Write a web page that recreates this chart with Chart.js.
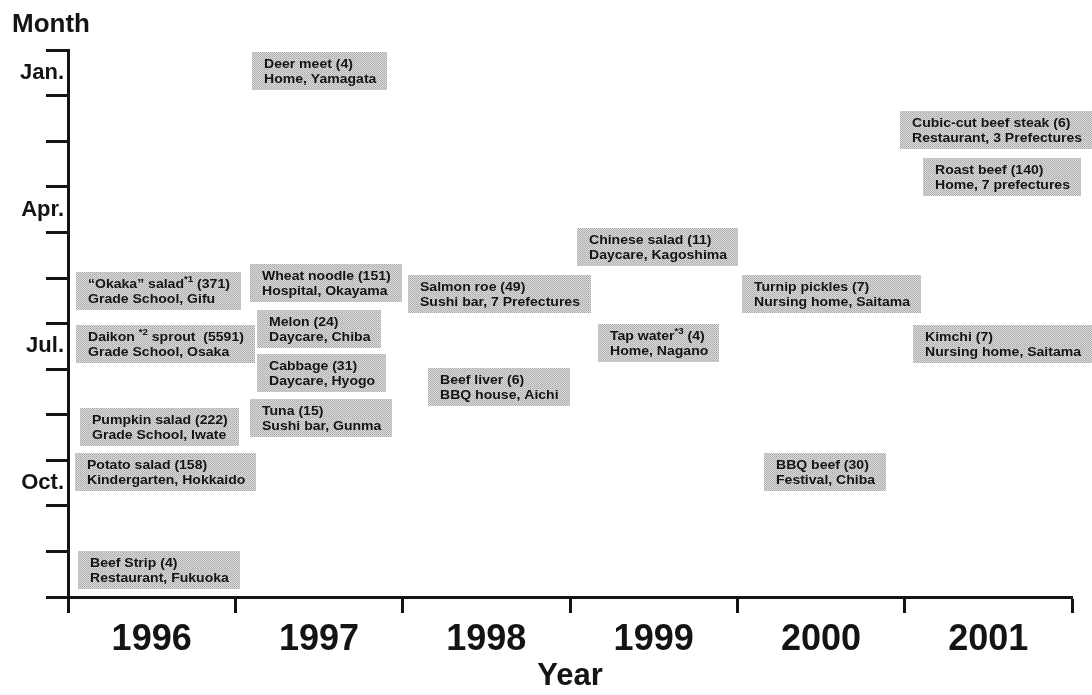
<!DOCTYPE html>
<html><head><meta charset="utf-8">
<script src="https://cdn.jsdelivr.net/npm/chart.js@4/dist/chart.umd.min.js"></script>
<style>html,body{margin:0;padding:0;background:#fff}#wrap{width:1092px;height:695px}</style>
</head><body><div id="wrap"><canvas id="c" width="1092" height="695"></canvas></div>
<script>
// ---- data ----
const yearStart = 1996;
const yearEnd = 2002;
const yearLabels = ['1996', '1997', '1998', '1999', '2000', '2001'];
const monthLabels = ['Jan.', '', '', 'Apr.', '', '', 'Jul.', '', '', 'Oct.', '', ''];

// outbreak food (cases) and setting, prefecture
const foods = [
  'Deer meet (4)',
  '“Okaka” salad^*1^ (371)',
  'Wheat noodle (151)',
  'Daikon ^*2^ sprout  (5591)',
  'Melon (24)',
  'Cabbage (31)',
  'Tuna (15)',
  'Pumpkin salad (222)',
  'Potato salad (158)',
  'Beef Strip (4)',
  'Salmon roe (49)',
  'Beef liver (6)',
  'Chinese salad (11)',
  'Tap water^*3^ (4)',
  'Turnip pickles (7)',
  'BBQ beef (30)',
  'Cubic-cut beef steak (6)',
  'Roast beef (140)',
  'Kimchi (7)'
];
const places = [
  'Home, Yamagata',
  'Grade School, Gifu',
  'Hospital, Okayama',
  'Grade School, Osaka',
  'Daycare, Chiba',
  'Daycare, Hyogo',
  'Sushi bar, Gunma',
  'Grade School, Iwate',
  'Kindergarten, Hokkaido',
  'Restaurant, Fukuoka',
  'Sushi bar, 7 Prefectures',
  'BBQ house, Aichi',
  'Daycare, Kagoshima',
  'Home, Nagano',
  'Nursing home, Saitama',
  'Festival, Chiba',
  'Restaurant, 3 Prefectures',
  'Home, 7 prefectures',
  'Nursing home, Saitama'
];
// time of outbreak: year (fractional) and month (0 = start of Jan, fractional)
const eventYear = [1997.10, 1996.05, 1997.09, 1996.05, 1997.13, 1997.13, 1997.09, 1996.07, 1996.04, 1996.06,
                   1998.03, 1998.15, 1999.04, 1999.17, 2000.03, 2000.16, 2000.97, 2001.11, 2001.05];
const eventMonth = [0.46, 5.29, 5.11, 6.44, 6.11, 7.09, 8.08, 8.27, 9.25, 11.41,
                    5.34, 7.39, 4.31, 6.42, 5.34, 9.25, 1.76, 2.79, 6.45];

// ---- rendering ----
const FONT = '"Liberation Sans", Arial, Helvetica, sans-serif';
const INK = '#141414';

function makePattern(ctx) {
  const p = document.createElement('canvas');
  p.width = 2; p.height = 2;
  const c = p.getContext('2d');
  c.fillStyle = '#dcdcdc'; c.fillRect(0, 0, 2, 2);
  c.fillStyle = '#a9a9a9'; c.fillRect(0, 0, 1, 1);
  c.fillStyle = '#b4b4b4'; c.fillRect(1, 1, 1, 1);
  return ctx.createPattern(p, 'repeat');
}

const TXT_SIZE = 13, SUP_SIZE = 9, STRETCH = 1.08;
function segs(s) { return s.split('^').map((t, i) => ({ t, sup: i % 2 === 1 })); }
function richWidth(ctx, s) {
  let w = 0;
  for (const g of segs(s)) {
    ctx.font = 'bold ' + (g.sup ? SUP_SIZE : TXT_SIZE) + 'px ' + FONT;
    w += ctx.measureText(g.t).width;
  }
  return w * STRETCH;
}
function drawRich(ctx, s, x, y) {
  ctx.save();
  ctx.translate(x, y);
  ctx.scale(STRETCH, 1);
  let cx = 0;
  for (const g of segs(s)) {
    ctx.font = 'bold ' + (g.sup ? SUP_SIZE : TXT_SIZE) + 'px ' + FONT;
    ctx.fillText(g.t, cx, g.sup ? -4 : 0);
    cx += ctx.measureText(g.t).width;
  }
  ctx.restore();
}

const boxPlugin = {
  id: 'boxes',
  afterDatasetsDraw(chart) {
    const ctx = chart.ctx;
    const meta = chart.getDatasetMeta(0);
    const pat = makePattern(ctx);
    ctx.save();
    meta.data.forEach((pt, i) => {
      const w = Math.max(richWidth(ctx, foods[i]), richWidth(ctx, places[i])) + 23;
      const h = 38;
      const x0 = Math.round(pt.x), y0 = Math.round(pt.y - h / 2);
      ctx.fillStyle = pat;
      ctx.fillRect(x0, y0, Math.round(w), h);
      ctx.fillStyle = INK;
      ctx.textBaseline = 'middle';
      ctx.textAlign = 'left';
      drawRich(ctx, foods[i], x0 + 12, y0 + 12);
      drawRich(ctx, places[i], x0 + 12, y0 + 27);
    });
    ctx.restore();
  }
};

const xTicks = [];
for (let v = yearStart; v <= yearEnd + 1e-9; v += 0.5) xTicks.push(v);
const yTicks = [];
for (let v = 0; v <= 12 + 1e-9; v += 0.5) yTicks.push(v);
const isWhole = v => Math.abs(v - Math.round(v)) < 1e-6;

new Chart(document.getElementById('c'), {
  type: 'scatter',
  data: {
    datasets: [{
      data: eventYear.map((x, i) => ({ x, y: eventMonth[i] })),
      pointRadius: 0, pointHoverRadius: 0, clip: false
    }]
  },
  options: {
    responsive: false,
    devicePixelRatio: 1,
    animation: false,
    events: [],
    layout: { padding: { left: 12, right: 20, top: 0, bottom: 0 } },
    plugins: {
      legend: { display: false },
      tooltip: { enabled: false },
      title: {
        display: true, text: 'Month', align: 'start', color: INK,
        font: { family: FONT, size: 26, weight: 'bold', lineHeight: 1.2 },
        padding: { top: 9, bottom: 10 }
      }
    },
    scales: {
      x: {
        type: 'linear', position: 'bottom', min: yearStart, max: yearEnd,
        afterBuildTicks: s => { s.ticks = xTicks.map(value => ({ value })); },
        afterFit: s => { s.height = 98; },
        ticks: {
          autoSkip: false, maxRotation: 0, minRotation: 0, color: INK, padding: 5,
          font: { family: FONT, size: 36, weight: 'bold' },
          callback: v => isWhole(v) ? '' : yearLabels[Math.floor(v) - yearStart]
        },
        grid: {
          drawOnChartArea: false, drawTicks: true, tickLength: 16, tickWidth: 3,
          tickColor: c => isWhole(c.tick.value) ? INK : 'rgba(0,0,0,0)'
        },
        border: { display: true, color: INK, width: 3 },
        title: {
          display: true, text: 'Year', color: INK,
          font: { family: FONT, size: 31, weight: 'bold', lineHeight: 1.2 },
          padding: { top: 0, bottom: 0 }
        }
      },
      y: {
        type: 'linear', position: 'left', min: 0, max: 12, reverse: true,
        afterBuildTicks: s => { s.ticks = yTicks.map(value => ({ value })); },
        afterFit: s => { s.width = 56; },
        ticks: {
          autoSkip: false, color: INK, padding: -18,
          font: { family: FONT, size: 22, weight: 'bold' },
          callback: v => isWhole(v) ? '' : monthLabels[Math.floor(v)]
        },
        grid: {
          drawOnChartArea: false, drawTicks: true, tickLength: 22, tickWidth: 3,
          tickColor: c => isWhole(c.tick.value) ? INK : 'rgba(0,0,0,0)'
        },
        border: { display: true, color: INK, width: 3 }
      }
    }
  },
  plugins: [boxPlugin]
});
</script>
</body></html>
